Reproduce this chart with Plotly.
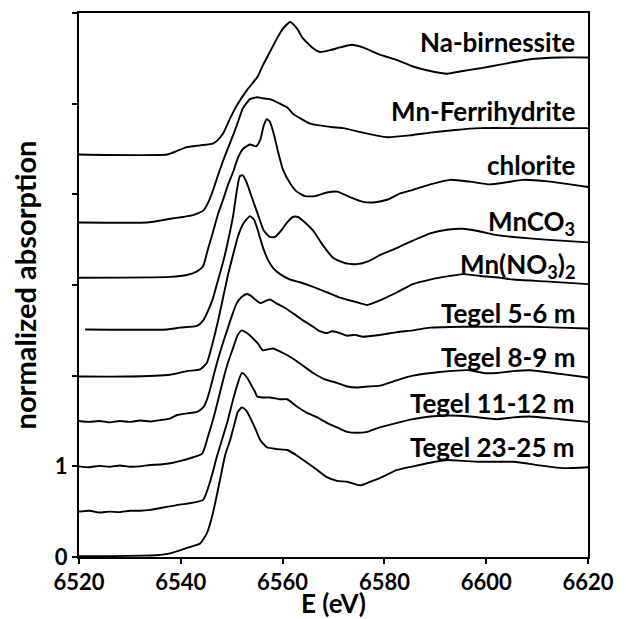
import plotly.graph_objects as go

# ---------------- data (energy in eV, normalized absorption before stacking) ----------------
names = ["Na-birnessite", "Mn-Ferrihydrite", "chlorite", "MnCO<sub>3</sub>",
         "Mn(NO<sub>3</sub>)<sub>2</sub>", "Tegel 5-6 m", "Tegel 8-9 m",
         "Tegel 11-12 m", "Tegel 23-25 m"]
offsets = [4.44, 3.69, 3.08, 2.51, 1.99, 1.50, 1.00, 0.50, 0.01]
label_y = [5.68, 4.92, 4.32, 3.69, 3.21, 2.69, 2.21, 1.70, 1.21]

E_na = [6520, 6537.3, 6539.3, 6541.2, 6543.8, 6546.3, 6547.1, 6548.3, 6549.7, 6551.0,
        6553.0, 6555.0, 6556.1, 6557.5, 6558.9, 6560.1, 6561.5, 6562.8, 6564.0, 6566.0,
        6567.3, 6569.3, 6571.3, 6573.6, 6575.8, 6579.1, 6582.5, 6585.6, 6589.0, 6592.3,
        6595.4, 6598.8, 6602.7, 6608.6, 6614.5, 6620]
mu_na = [0, 0, 0.04, 0.08, 0.10, 0.12, 0.15, 0.23, 0.40, 0.54,
         0.71, 0.85, 0.98, 1.13, 1.28, 1.39, 1.46, 1.39, 1.28, 1.17,
         1.13, 1.15, 1.18, 1.21, 1.18, 1.10, 1.04, 0.97, 0.92, 0.89,
         0.92, 0.95, 0.99, 1.05, 1.07, 1.07]

E_fh = [6520, 6533.4, 6535.9, 6537.9, 6540.4, 6542.4, 6544.4, 6545.3, 6546.3, 6547.3,
        6548.3, 6549.7, 6551.0, 6552.2, 6553.6, 6555.0, 6556.1, 6557.5, 6559.5, 6560.9,
        6562.0, 6563.4, 6565.4, 6567.3, 6569.9, 6571.9, 6575.8, 6580.5, 6585.0, 6589.0,
        6593.9, 6598.8, 6608.6, 6620]
mu_fh = [0, 0, 0.02, 0.04, 0.06, 0.08, 0.13, 0.21, 0.35, 0.52,
         0.68, 0.88, 1.07, 1.26, 1.36, 1.38, 1.37, 1.36, 1.31, 1.27,
         1.20, 1.15, 1.09, 1.07, 1.05, 1.04, 0.99, 0.94, 0.96, 0.99,
         1.02, 1.04, 1.04, 1.04]

E_chl = [6520, 6537.9, 6541.2, 6543.2, 6544.4, 6545.3, 6546.3, 6547.3, 6548.3, 6549.3,
         6550.3, 6551.2, 6552.2, 6553.6, 6554.8, 6555.6, 6556.3, 6556.9, 6557.5, 6558.3,
         6559.1, 6560.1, 6561.5, 6562.8, 6564.4, 6566.4, 6568.7, 6570.7, 6573.2, 6575.6,
         6577.8, 6580.5, 6583.1, 6585.6, 6589.0, 6592.9, 6596.8, 6600.7, 6603.7, 6607.2,
         6612.5, 6616.5, 6620]
mu_chl = [0, 0.01, 0.03, 0.07, 0.13, 0.31, 0.50, 0.70, 0.86, 1.03,
          1.17, 1.32, 1.42, 1.47, 1.45, 1.52, 1.68, 1.75, 1.72, 1.58,
          1.39, 1.19, 1.04, 0.95, 0.90, 0.90, 0.94, 0.95, 0.89, 0.84,
          0.83, 0.86, 0.93, 0.97, 1.03, 1.08, 1.06, 1.03, 1.05, 1.08,
          1.06, 1.03, 1.00]

E_co3 = [6521.2, 6537.3, 6539.8, 6543.2, 6544.4, 6545.3, 6546.3, 6547.3, 6548.3, 6549.3,
         6550.3, 6551.0, 6551.6, 6552.2, 6553.0, 6554.0, 6555.2, 6556.3, 6557.5, 6558.5,
         6559.7, 6560.9, 6562.0, 6563.0, 6564.4, 6566.0, 6567.9, 6569.9, 6572.3, 6574.6,
         6576.8, 6579.1, 6582.5, 6585.6, 6589.0, 6592.3, 6595.4, 6598.8, 6602.1, 6605.3,
         6611.6, 6620]
mu_co3 = [0, 0, 0.02, 0.04, 0.10, 0.20, 0.34, 0.54, 0.74, 0.98,
          1.26, 1.53, 1.69, 1.70, 1.61, 1.45, 1.26, 1.09, 1.02, 1.02,
          1.09, 1.18, 1.24, 1.24, 1.18, 1.09, 0.93, 0.79, 0.73, 0.72,
          0.75, 0.82, 0.90, 0.98, 1.06, 1.10, 1.11, 1.08, 1.04, 1.02,
          0.99, 0.96]

E_no3 = [6520, 6529.4, 6537.9, 6541.2, 6543.8, 6545.1, 6546.3, 6547.3, 6548.3, 6549.3,
         6550.3, 6551.2, 6552.2, 6553.0, 6553.6, 6554.4, 6555.2, 6556.1, 6557.1, 6558.1,
         6559.5, 6561.5, 6563.4, 6566.0, 6568.7, 6571.3, 6573.2, 6575.2, 6576.6, 6579.1,
         6582.5, 6585.6, 6589.0, 6592.9, 6595.4, 6598.8, 6602.7, 6605.3, 6611.6, 6620]
mu_no3 = [0, 0, 0.02, 0.06, 0.08, 0.15, 0.38, 0.61, 0.87, 1.13,
          1.35, 1.54, 1.68, 1.74, 1.77, 1.73, 1.60, 1.43, 1.29, 1.20,
          1.13, 1.07, 1.04, 0.99, 0.93, 0.87, 0.84, 0.81, 0.79, 0.84,
          0.93, 1.02, 1.07, 1.11, 1.13, 1.11, 1.09, 1.07, 1.05, 1.02]

E_t56 = [6520, 6522, 6524, 6526, 6528, 6530, 6532, 6534, 6536, 6538,
         6539.3, 6541.8, 6543.2, 6544.4, 6545.1, 6545.7, 6546.3, 6547.1, 6548.1, 6549.1,
         6550.1, 6551.0, 6552.0, 6553.0, 6553.8, 6554.6, 6555.6, 6556.5, 6557.5, 6558.7,
         6560.1, 6562.0, 6564.0, 6566.0, 6567.3, 6568.7, 6569.7, 6570.7, 6572.7, 6574.2,
         6575.8, 6579.1, 6582.5, 6585.6, 6589.0, 6595.4, 6602.1, 6608.6, 6614.5, 6620]
mu_t56 = [0, -0.01, 0.0, -0.015, 0.0, -0.01, 0.005, -0.005, 0.01, 0.03,
          0.066, 0.088, 0.10, 0.15, 0.23, 0.34, 0.47, 0.64, 0.83, 1.00,
          1.17, 1.30, 1.37, 1.40, 1.38, 1.34, 1.30, 1.32, 1.34, 1.30,
          1.26, 1.19, 1.11, 1.04, 0.99, 0.97, 0.99, 0.98, 0.94, 0.95,
          0.93, 0.95, 0.98, 1.00, 1.03, 1.04, 1.04, 1.04, 1.03, 1.02]

E_t89 = [6520, 6522, 6524, 6526, 6528, 6530, 6532, 6534, 6536, 6538.5,
         6540, 6542.4, 6544.2, 6545.3, 6546.7, 6548.3, 6549.3, 6550.3, 6551.2, 6552.0,
         6553.0, 6554.2, 6555.2, 6556.1, 6557.1, 6558.1, 6560.1, 6562.0, 6564.0, 6566.0,
         6568.3, 6570.7, 6572.7, 6574.6, 6576.8, 6579.1, 6582.5, 6585.6, 6590.9, 6596.8,
         6599.4, 6602.1, 6605.3, 6608.6, 6614.5, 6620]
mu_t89 = [0, -0.01, 0.005, -0.005, 0.01, -0.005, 0.0, 0.015, 0.02, 0.04,
          0.06, 0.10, 0.14, 0.32, 0.59, 0.95, 1.15, 1.31, 1.45, 1.50,
          1.47, 1.41, 1.35, 1.28, 1.29, 1.30, 1.25, 1.19, 1.11, 1.03,
          0.96, 0.92, 0.88, 0.87, 0.88, 0.89, 0.95, 1.00, 1.04, 1.06,
          1.03, 1.03, 1.05, 1.06, 1.02, 0.98]

E_t1112 = [6520, 6522, 6524, 6526, 6528, 6530, 6532, 6534, 6536, 6539,
           6542.4, 6544.4, 6545.7, 6547.1, 6549.1, 6550.1, 6551.0, 6552.0, 6553.0, 6554.0,
           6554.6, 6555.0, 6556.0, 6557.5, 6559.5, 6560.9, 6562.8, 6564.8, 6566.8, 6568.7,
           6570.7, 6572.7, 6574.6, 6576.6, 6579.1, 6582.5, 6585.6, 6589.0, 6592.9, 6596.8,
           6602.1, 6605.3, 6608.6, 6614.5, 6620]
mu_t1112 = [0, 0.01, -0.01, 0.0, -0.005, 0.01, 0.01, 0.02, 0.04, 0.07,
            0.10, 0.13, 0.32, 0.61, 0.98, 1.20, 1.38, 1.53, 1.48, 1.38,
            1.32, 1.27, 1.26, 1.26, 1.24, 1.24, 1.16, 1.09, 1.04, 0.98,
            0.93, 0.88, 0.87, 0.88, 0.93, 0.98, 1.02, 1.05, 1.06, 1.05,
            1.02, 1.04, 1.05, 1.02, 0.99]

E_t2325 = [6520, 6526, 6532.6, 6535, 6537.9, 6541.2, 6543.8, 6545.1, 6546.3, 6547.7,
           6548.7, 6549.7, 6550.5, 6551.2, 6552.0, 6552.8, 6553.6, 6554.6, 6555.6, 6556.9,
           6558.9, 6560.9, 6562.8, 6564.8, 6566.8, 6568.7, 6570.7, 6572.7, 6575.2, 6577.2,
           6579.1, 6582.5, 6585.6, 6589.0, 6592.3, 6595.4, 6598.8, 6605.3, 6610.6, 6615.1,
           6620]
mu_t2325 = [0, 0.0, 0.005, 0.01, 0.03, 0.09, 0.14, 0.25, 0.47, 0.84,
            1.11, 1.28, 1.45, 1.59, 1.64, 1.61, 1.53, 1.41, 1.28, 1.20,
            1.18, 1.17, 1.11, 1.03, 0.95, 0.87, 0.83, 0.82, 0.78, 0.82,
            0.86, 0.95, 0.99, 1.03, 1.06, 1.05, 1.04, 1.04, 1.00, 0.97,
            0.98]

energies = [E_na, E_fh, E_chl, E_co3, E_no3, E_t56, E_t89, E_t1112, E_t2325]
spectra = [mu_na, mu_fh, mu_chl, mu_co3, mu_no3, mu_t56, mu_t89, mu_t1112, mu_t2325]

x_ticks = [6520, 6540, 6560, 6580, 6600, 6620]
y_ticks = [0, 1, 2, 3, 4, 5, 6]
y_ticktext = ["0", "1", "", "", "", "", ""]

# ---------------- figure ----------------
FONT = "Lato"
fig = go.Figure()
for E, mu, off in zip(energies, spectra, offsets):
    fig.add_trace(go.Scatter(
        x=E, y=[v + off for v in mu], mode="lines",
        line=dict(color="black", width=1.9, shape="spline", smoothing=0.5),
        showlegend=False, hoverinfo="skip"))

for name, ly in zip(names, label_y):
    fig.add_annotation(x=0.978, xref="paper", y=ly, yref="y", text=name,
                       showarrow=False, xanchor="right", yanchor="middle",
                       font=dict(family=FONT, size=26, color="black", weight="bold"))

axis_common = dict(showline=True, linecolor="black", linewidth=2, mirror=True,
                   ticks="outside", ticklen=5, tickwidth=2, tickcolor="black",
                   showgrid=False, zeroline=False,
                   tickfont=dict(family=FONT, size=22, color="black", weight="bold"))

fig.update_xaxes(range=[6520, 6620], tickvals=x_ticks,
                 title=dict(text="E (eV)", standoff=0,
                            font=dict(family=FONT, size=26, color="black", weight="bold")),
                 **axis_common)
fig.update_yaxes(range=[0, 6], tickvals=y_ticks, ticktext=y_ticktext,
                 title=dict(text="normalized absorption", standoff=10,
                            font=dict(family=FONT, size=29, color="black", weight="bold")),
                 **axis_common)

fig.update_layout(width=631, height=619, plot_bgcolor="white", paper_bgcolor="white",
                  margin=dict(l=79, r=43, t=13, b=62, autoexpand=False))

fig.write_html("out.html")
